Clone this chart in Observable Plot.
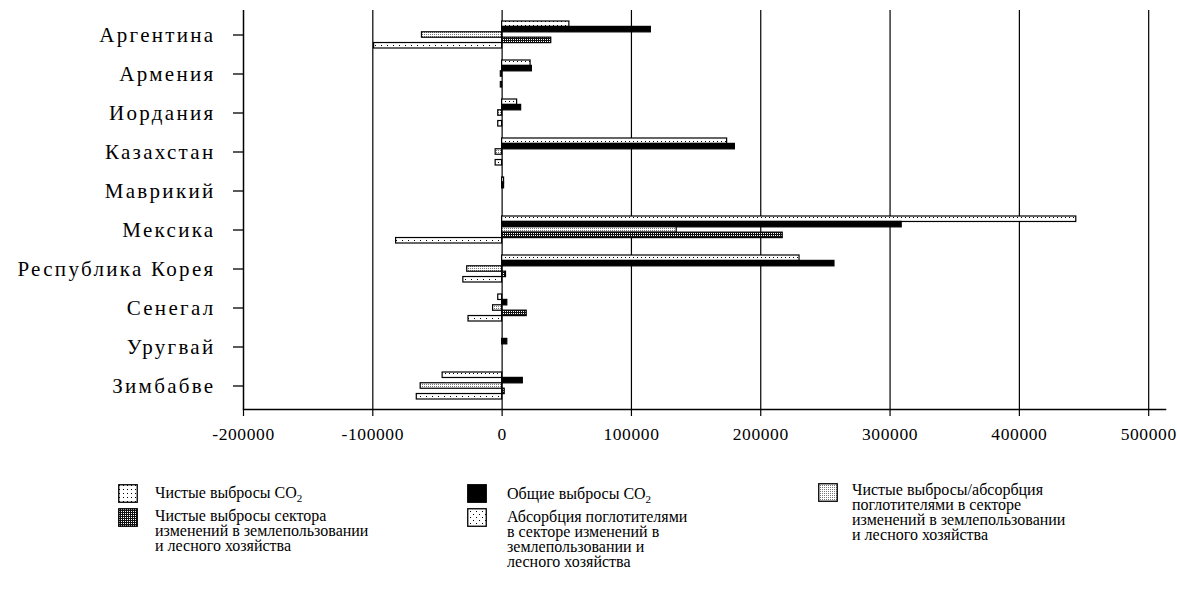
<!DOCTYPE html>
<html>
<head>
<meta charset="utf-8">
<script src="https://cdn.jsdelivr.net/npm/d3@7"></script>
<script src="https://cdn.jsdelivr.net/npm/@observablehq/plot@0.6"></script>
<style>
  body { margin: 0; background: #fff; width: 1177px; height: 600px; position: relative; overflow: hidden; }
  #chart svg { display: block; }
  svg [aria-label="y-axis tick label"] text { letter-spacing: 2.3px; }
  svg [aria-label="x-axis tick label"] text { letter-spacing: 0.6px; }
  .lg { position: absolute; font-family: "Liberation Serif", serif; font-size: 16px; line-height: 15px; color: #000; white-space: nowrap; }
  .sw { position: absolute; }
</style>
</head>
<body>
<div id="chart"></div>
<script>
const countries = ["Аргентина","Армения","Иордания","Казахстан","Маврикий","Мексика","Республика Корея","Сенегал","Уругвай","Зимбабве"];
const netCO2        = [52000, 22000, 11600, 174000, 1500, 444000, 230000, -3000, 0, -46000];
const totalCO2      = [115000, 23000, 14700, 180000, 1500, 309000, 257000, 4000, 4000, 16000];
const netLUCF       = [-62000, -1000, -3000, -5000, 0, 135000, -27000, -7000, 0, -63000];
const lucfEmissions = [38000, 0, 0, 0, 0, 217000, 3000, 19000, 0, 2000];
const absorption    = [-99000, -1000, -3000, -5000, 0, -82000, -30000, -26000, 0, -66000];
const xTicks = [-200000, -100000, 0, 100000, 200000, 300000, 400000, 500000];
const gridTicks = [-100000, 0, 100000, 200000, 300000, 400000, 500000];

const series = [
  {name: "Чистые выбросы CO2", values: netCO2, fill: "url(#pNet)"},
  {name: "Общие выбросы CO2", values: totalCO2, fill: "#000"},
  {name: "Чистые выбросы/абсорбция поглотителями в секторе изменений в землепользовании и лесного хозяйства", values: netLUCF, fill: "url(#pNetLUCF)"},
  {name: "Чистые выбросы сектора изменений в землепользовании и лесного хозяйства", values: lucfEmissions, fill: "url(#pLUCF)"},
  {name: "Абсорбция поглотителями в секторе изменений в землепользовании и лесного хозяйства", values: absorption, fill: "url(#pAbs)"}
];

const marginTop = 10, marginBottom = 46, height = 455;
const pInner = 0.32, pOuter = 0.203;
const step = (height - marginTop - marginBottom) / (countries.length - pInner + 2 * pOuter);
const slotH = step * (1 - pInner) / series.length;

const barMarks = series.map((s, k) => Plot.barX(
  countries.map((c, i) => ({country: c, value: s.values[i]})),
  {x: "value", y: "country", fill: s.fill, stroke: "#000", strokeWidth: 1.2,
   insetTop: k * slotH, insetBottom: (series.length - 1 - k) * slotH}
));

const plot = Plot.plot({
  width: 1177,
  height,
  marginTop,
  marginBottom,
  marginLeft: 243,
  marginRight: 12,
  style: {background: "white", color: "black", fontFamily: "Liberation Serif, serif"},
  x: {domain: [-200000, 513000]},
  y: {domain: countries, paddingInner: pInner, paddingOuter: pOuter},
  marks: [
    Plot.ruleX(gridTicks, {stroke: "#000", strokeWidth: 1.2}),
    ...barMarks,
    Plot.ruleX([-200000], {stroke: "#000", strokeWidth: 1.5}),
    Plot.frame({anchor: "bottom", stroke: "#000", strokeWidth: 1.5}),
    Plot.axisY({tickSize: 10, tickPadding: 18, fontSize: 21, label: null, strokeWidth: 1.3}),
    Plot.axisX({ticks: xTicks, tickFormat: d => String(d), tickSize: 7, tickPadding: 11, fontSize: 17.5, label: null, strokeWidth: 1.2})
  ]
});

const defs = `<defs>
  <pattern id="pNet" width="4" height="4" patternUnits="userSpaceOnUse">
    <rect width="4" height="4" fill="#fff"/><rect x="1" y="1" width="1" height="1" fill="#000"/>
  </pattern>
  <pattern id="pNetLUCF" width="2" height="2" patternUnits="userSpaceOnUse">
    <rect width="2" height="2" fill="#fff"/><rect width="1" height="1" fill="#777"/>
  </pattern>
  <pattern id="pLUCF" width="2" height="2" patternUnits="userSpaceOnUse">
    <rect width="2" height="2" fill="#111"/><rect x="1" y="1" width="1" height="1" fill="#fff"/>
  </pattern>
  <pattern id="pAbs" width="6" height="6" patternUnits="userSpaceOnUse">
    <rect width="6" height="6" fill="#fff"/><rect x="0" y="0" width="1" height="1" fill="#000"/><rect x="3" y="3" width="1" height="1" fill="#000"/>
  </pattern>
</defs>`;
plot.insertAdjacentHTML("afterbegin", defs);
document.getElementById("chart").appendChild(plot);

// Legend
const sub = "<sub style='font-size:11px;line-height:0'>2</sub>";
const legendItems = [
  {s: 0, sx: 118, sy: 484, tx: 155, ty: 485, html: "Чистые выбросы CO" + sub},
  {s: 1, sx: 467, sy: 484, tx: 507, ty: 486, html: "Общие выбросы CO" + sub},
  {s: 2, sx: 818, sy: 483, tx: 852, ty: 482, html: "Чистые выбросы/абсорбция<br>поглотителями в секторе<br>изменений в землепользовании<br>и лесного хозяйства"},
  {s: 3, sx: 118, sy: 508, tx: 155, ty: 508, html: "Чистые выбросы сектора<br>изменений в землепользовании<br>и лесного хозяйства"},
  {s: 4, sx: 467, sy: 508, tx: 507, ty: 509, html: "Абсорбция поглотителями<br>в секторе изменений в<br>землепользовании и<br>лесного хозяйства"}
];
for (const it of legendItems) {
  const sw = document.createElementNS("http://www.w3.org/2000/svg", "svg");
  sw.setAttribute("width", 20); sw.setAttribute("height", 19);
  sw.setAttribute("class", "sw");
  sw.style.left = it.sx + "px"; sw.style.top = it.sy + "px";
  sw.innerHTML = `<rect x="0.75" y="0.75" width="18.5" height="17.5" fill="${series[it.s].fill}" stroke="#000" stroke-width="1.3"/>`;
  document.body.appendChild(sw);
  const t = document.createElement("div");
  t.className = "lg";
  t.style.left = it.tx + "px"; t.style.top = it.ty + "px";
  t.innerHTML = it.html;
  document.body.appendChild(t);
}
</script>
</body>
</html>
